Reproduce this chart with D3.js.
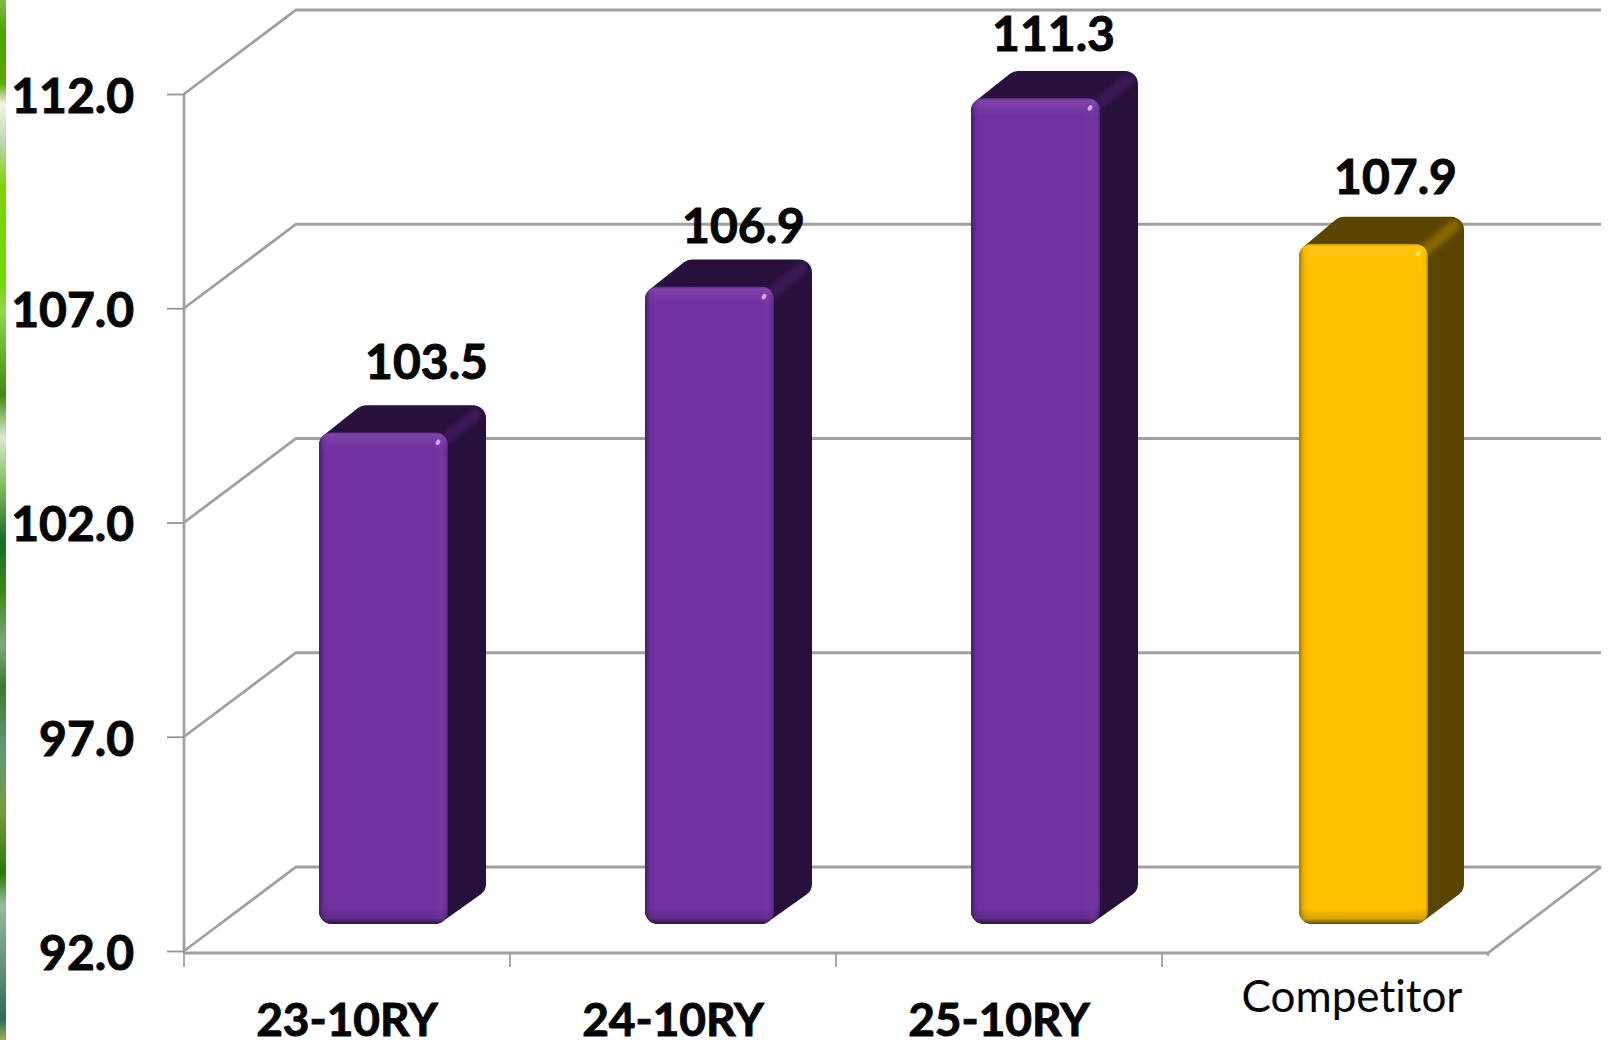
<!DOCTYPE html>
<html>
<head>
<meta charset="utf-8">
<script src="https://cdnjs.cloudflare.com/ajax/libs/d3/7.8.5/d3.min.js"></script>
<style>
  html, body { margin: 0; padding: 0; background: #fff; }
  svg { display: block; }
  text { font-family: Lato, "Open Sans", sans-serif; fill: #050505; font-variant-ligatures: none; }
  .heavy { stroke: #050505; stroke-width: 1; }
</style>
</head>
<body>
<svg id="chart" width="1608" height="1040"></svg>
<script>
// Chart values
const categories = ["23-10RY", "24-10RY", "25-10RY", "Competitor"];
const values = [103.5, 106.9, 111.3, 107.9];
const yTicks = [92, 97, 102, 107, 112];
const faceColors = ["#7030a0", "#7030a0", "#7030a0", "#ffc000"];
const shadeColors = ["#28103c", "#28103c", "#28103c", "#5a4500"];
const labelNudgeX = [43, 34, 18, 32];
const labelNudgeY = [-26, -17, -20, -23];
const barInsets = [135, 135, 135, 137];
const barDepths = [38, 38, 38, 36];

// Plot frame and the oblique depth of the 3-D box
const H = 1040;
const plotLeft = 184, plotRight = 1488, plotTop = 94, plotBottom = 951;
const wallDx = 112, wallDy = -84;
const barWidth = 129, barDy = -27;
const topLift = 26, baseLift = 27, corner = 13;
const lineColor = "#a0a0a0";

const svg = d3.select("#chart");
const defs = svg.append("defs");

const x = d3.scaleBand().domain(categories).range([plotLeft, plotRight]);
const y = d3.scaleLinear().domain([92, 112]).range([plotBottom, plotTop]);

// Photo strip along the left edge
const stripStops = [
  [0, "#86b84f"], [0.03, "#4ea600"], [0.08, "#5aa800"], [0.1, "#f2f5ea"], [0.14, "#b9d5a8"],
  [0.18, "#7ed400"], [0.27, "#74d800"], [0.3, "#8fd850"], [0.38, "#3f8a10"], [0.42, "#dbe8cf"],
  [0.47, "#7cb85a"], [0.52, "#1c6a2a"], [0.57, "#3f8a18"], [0.62, "#7fa880"], [0.66, "#3f7a30"],
  [0.72, "#5f9a78"], [0.78, "#7a9a40"], [0.84, "#2a7a08"], [0.87, "#9ab8a0"], [0.94, "#5a8a70"],
  [0.98, "#2f6a58"], [1, "#9ab060"]
];
const strip = defs.append("linearGradient").attr("id", "strip")
  .attr("x1", 0).attr("x2", 0).attr("y1", 0).attr("y2", 1);
stripStops.forEach(s => strip.append("stop").attr("offset", s[0]).attr("stop-color", s[1]));
svg.append("rect").attr("width", 6).attr("height", H).attr("fill", "url(#strip)");

// Soft edge for the lit ridge on each box
defs.append("filter").attr("id", "soft")
  .attr("x", "-30%").attr("y", "-30%").attr("width", "160%").attr("height", "160%")
  .append("feGaussianBlur").attr("stdDeviation", 2.5);

// Back wall gridlines and the oblique lines on the side wall
const frame = svg.append("g").attr("fill", "none").attr("stroke", lineColor).attr("stroke-width", 2.8);
frame.selectAll("path.grid").data(yTicks).join("path").attr("class", "grid")
  .attr("d", v => d3.line()([
    [plotLeft, y(v)],
    [plotLeft + wallDx, y(v) + wallDy],
    [plotRight + wallDx + 1, y(v) + wallDy]
  ]));

// Floor outline
frame.append("path").attr("d", d3.line()([
  [plotLeft, plotBottom + 2], [plotRight, plotBottom + 2], [plotRight + wallDx + 1, y(92) + wallDy]
]));
frame.append("line").attr("x1", plotLeft).attr("x2", plotLeft).attr("y1", plotTop).attr("y2", plotBottom + 2);

// Category tick marks
const slotEdges = categories.map(c => x(c)).concat([plotRight]);
frame.selectAll("line.xt").data(slotEdges).join("line").attr("class", "xt")
  .attr("stroke-width", 1.8)
  .attr("x1", d => d).attr("x2", d => d)
  .attr("y1", plotBottom + 2).attr("y2", (d, i) => i === 4 ? plotBottom + 5 : plotBottom + 16);

// Value axis
const yAxis = d3.axisLeft(y).tickValues(yTicks).tickFormat(d3.format(".1f"))
  .tickSize(17).tickPadding(33);
const yG = svg.append("g").attr("transform", `translate(${plotLeft},0)`).call(yAxis);
yG.select(".domain").remove();
yG.selectAll(".tick line").attr("stroke", "#959595").attr("stroke-width", 1.8);
yG.selectAll(".tick text")
  .attr("class", "heavy").attr("dy", "0.38em")
  .style("font-size", "48px").style("font-weight", 700)
  .attr("fill", "#050505");

// Small vertical gradients used for the bevel bands on each face
function bandGradient(id, stops, horizontal) {
  const g = defs.append("linearGradient").attr("id", id)
    .attr("x1", 0).attr("y1", 0)
    .attr("x2", horizontal ? 1 : 0).attr("y2", horizontal ? 0 : 1);
  stops.forEach(s => g.append("stop").attr("offset", s[0])
    .attr("stop-color", s[1]).attr("stop-opacity", s[2]));
}
bandGradient("bevelTop", [[0, "#000", 0.3], [0.2, "#fff", 0.08], [1, "#fff", 0]]);
bandGradient("bevelBottom", [[0, "#000", 0], [0.65, "#000", 0.14], [1, "#000", 0.6]]);
bandGradient("bevelRight", [[0, "#fff", 0], [0.6, "#fff", 0.03], [0.85, "#000", 0.02], [1, "#000", 0.3]], true);
bandGradient("bevelLeft", [[0, "#000", 0.36], [0.5, "#000", 0.05], [1, "#000", 0]], true);

// Bars: dark box behind a rounded, bevelled front face
const bars = svg.append("g").selectAll("g.bar").data(categories).join("g").attr("class", "bar");

bars.each(function (cat, i) {
  const g = d3.select(this);
  const barDx = barDepths[i];
  const x0 = x(cat) + barInsets[i], x1 = x0 + barWidth;
  const yTop = y(values[i]) - topLift, yBase = y(92) - baseLift;
  const face = faceColors[i], shade = shadeColors[i];
  const r = corner;

  // Silhouette of the box; the thick round stroke gives soft outer corners
  g.append("path")
    .attr("d", d3.line()([
      [x0 + r, yTop + r],
      [x0 + r + barDx - 4, yTop + barDy + r],
      [x1 + barDx - r, yTop + barDy + r],
      [x1 + barDx - r, yBase + barDy - r],
      [x1 - r, yBase - r],
      [x0 + r, yBase - r]
    ]) + "Z")
    .attr("fill", shade).attr("stroke", shade)
    .attr("stroke-width", 2 * r).attr("stroke-linejoin", "round");

  // Lit ridge running from the front corner to the back corner
  g.append("line")
    .attr("x1", x1 - 2).attr("y1", yTop + 6)
    .attr("x2", x1 + barDx - 10).attr("y2", yTop + barDy + 9)
    .attr("stroke", d3.color(face).darker(1.2)).attr("stroke-width", 12)
    .attr("stroke-linecap", "round").attr("opacity", 0.6)
    .attr("filter", "url(#soft)");

  // Front face
  const clipId = "front" + i;
  defs.append("clipPath").attr("id", clipId).append("rect")
    .attr("x", x0).attr("y", yTop).attr("width", barWidth).attr("height", yBase - yTop)
    .attr("rx", r).attr("ry", r);
  const f = g.append("g").attr("clip-path", `url(#${clipId})`);
  f.append("rect").attr("x", x0).attr("y", yTop)
    .attr("width", barWidth).attr("height", yBase - yTop).attr("fill", face);
  f.append("rect").attr("x", x0).attr("y", yTop).attr("width", barWidth).attr("height", 18)
    .attr("fill", "url(#bevelTop)");
  f.append("rect").attr("x", x0).attr("y", yBase - 16).attr("width", barWidth).attr("height", 16)
    .attr("fill", "url(#bevelBottom)");
  f.append("rect").attr("x", x1 - 16).attr("y", yTop).attr("width", 16).attr("height", yBase - yTop)
    .attr("fill", "url(#bevelRight)");
  f.append("rect").attr("x", x0).attr("y", yTop).attr("width", 10).attr("height", yBase - yTop)
    .attr("fill", "url(#bevelLeft)");

  // Specular glint near the top right of the face
  g.append("ellipse").attr("cx", x1 - 10).attr("cy", yTop + 10).attr("rx", 2).attr("ry", 3)
    .attr("transform", `rotate(30 ${x1 - 10} ${yTop + 10})`)
    .attr("fill", i === 3 ? "#ffe95a" : "#d9a6ff");
});

// Value labels
svg.append("g").selectAll("text").data(values).join("text")
  .attr("class", "heavy")
  .attr("x", (v, i) => x(categories[i]) + barInsets[i] + barWidth / 2 + labelNudgeX[i])
  .attr("y", (v, i) => y(v) - topLift + barDy + labelNudgeY[i])
  .attr("text-anchor", "middle")
  .style("font-size", "48px").style("font-weight", 700)
  .text(v => d3.format(".1f")(v));

// Category labels
svg.append("g").selectAll("text").data(categories).join("text")
  .attr("class", (c, i) => i === 3 ? null : "heavy")
  .attr("x", (c, i) => x(c) + x.bandwidth() / 2 + (i === 3 ? 27 : 0))
  .attr("y", (c, i) => i === 3 ? 1012 : 1036)
  .attr("text-anchor", "middle")
  .style("font-size", (c, i) => i === 3 ? "44px" : "46px")
  .style("font-weight", (c, i) => i === 3 ? 400 : 700)
  .text(c => c);
</script>
</body>
</html>
